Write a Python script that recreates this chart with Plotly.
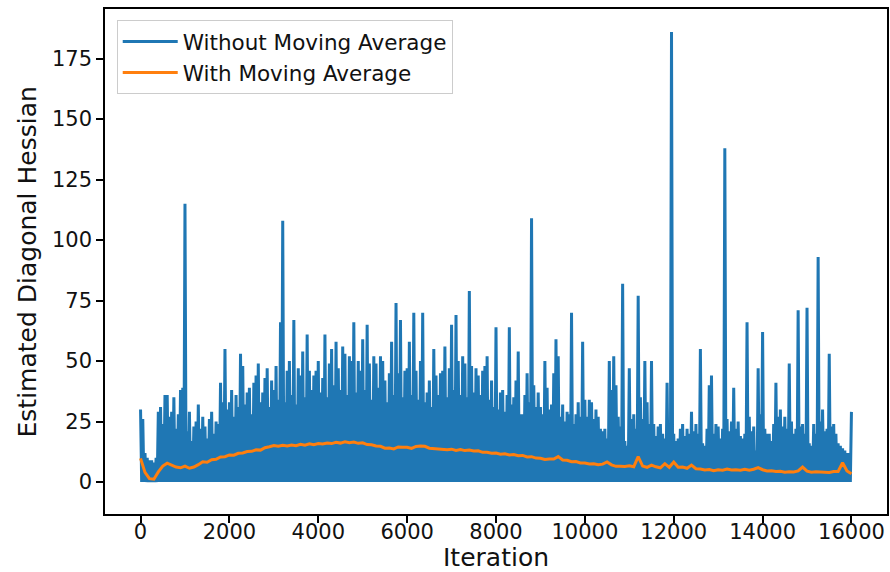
import plotly.graph_objects as go

# ---- data -------------------------------------------------------------
# Raw diagonal-Hessian estimate: local maxima sampled every 50 iterations
# (0, 50, ..., 16000); between two maxima the estimate drops back to the floor.
peak_step = 50
raw_peaks = [
    30, 26, 12, 10, 9, 9, 8, 10, 29, 31, 24, 36, 36, 27, 29, 35, 22, 28, 38, 39,
    115, 21, 29, 17, 23, 25, 32, 22, 27, 23, 18, 26, 29, 20, 25, 24, 41, 33, 55, 30,
    33, 38, 27, 36, 31, 53, 48, 32, 37, 39, 28, 41, 44, 49, 33, 37, 43, 47, 31, 42,
    38, 48, 34, 66, 108, 33, 46, 50, 36, 67, 32, 47, 44, 54, 35, 61, 46, 38, 44, 46,
    50, 37, 43, 61, 35, 49, 55, 40, 58, 47, 38, 56, 53, 36, 52, 50, 66, 37, 50, 46,
    59, 38, 65, 49, 34, 52, 49, 39, 52, 50, 42, 33, 45, 58, 36, 74, 45, 67, 35, 46,
    47, 58, 36, 70, 46, 34, 50, 70, 33, 37, 42, 31, 55, 44, 36, 45, 46, 56, 35, 47,
    65, 38, 69, 50, 36, 52, 49, 35, 79, 48, 37, 47, 44, 36, 46, 48, 52, 34, 42, 31,
    64, 30, 37, 38, 29, 36, 64, 32, 35, 42, 54, 28, 28, 36, 45, 33, 109, 40, 31, 37,
    31, 28, 50, 39, 30, 32, 45, 59, 52, 27, 32, 25, 29, 28, 70, 24, 28, 33, 27, 58,
    34, 27, 34, 33, 26, 30, 27, 22, 21, 22, 18, 50, 38, 52, 40, 27, 23, 82, 17, 15,
    47, 26, 28, 22, 77, 35, 26, 50, 33, 24, 50, 24, 19, 23, 24, 20, 18, 41, 19, 186,
    20, 17, 18, 22, 24, 19, 22, 20, 29, 21, 24, 20, 55, 16, 15, 22, 40, 44, 20, 24,
    23, 18, 22, 138, 26, 21, 25, 39, 22, 25, 19, 18, 20, 66, 27, 21, 23, 13, 47, 28,
    62, 22, 20, 20, 17, 24, 41, 27, 30, 23, 27, 22, 49, 25, 20, 22, 71, 23, 24, 20,
    72, 16, 15, 24, 20, 93, 25, 30, 21, 22, 53, 23, 24, 20, 16, 15, 14, 13, 12, 12,
    29,
]
raw_floor = 0.0

# Moving-average estimate, every 100 iterations (0, 100, ..., 16000)
avg_step = 100
avg_vals = [
    9.8, 4.0, 1.4, 1.2, 4.2, 6.6, 7.8, 7.1, 6.2, 5.9,
    6.6, 5.7, 6.2, 7.2, 8.4, 8.2, 9.2, 9.4, 10.4, 10.5,
    11.2, 11.1, 11.9, 12.0, 12.6, 12.7, 13.3, 13.2, 14.2, 14.6,
    15.1, 14.8, 15.2, 14.9, 15.3, 15.0, 15.6, 15.2, 15.8, 15.4,
    15.9, 15.7, 16.1, 15.9, 16.4, 16.1, 16.6, 16.3, 16.5, 16.0,
    16.2, 15.5, 15.4, 14.9, 14.8, 14.0, 14.1, 13.7, 14.5, 14.4,
    14.4, 13.9, 14.7, 14.9, 14.8, 14.0, 13.9, 13.5, 13.7, 13.4,
    13.6, 13.1, 13.4, 13.0, 13.2, 12.8, 12.9, 12.3, 12.3, 11.9,
    12.0, 11.5, 11.7, 11.2, 11.4, 10.9, 11.0, 10.4, 10.5, 9.9,
    9.8, 9.3, 9.5, 9.5, 10.5, 9.1, 9.0, 8.4, 8.5, 7.9,
    7.9, 7.5, 7.6, 7.2, 7.4, 8.3, 7.1, 6.5, 6.5, 6.4,
    6.7, 6.3, 10.5, 6.6, 6.1, 7.0, 6.3, 5.9, 7.6, 6.1,
    8.3, 6.1, 6.2, 5.7, 7.0, 5.5, 5.4, 5.0, 5.2, 4.7,
    5.1, 4.9, 5.4, 5.0, 5.1, 4.9, 5.3, 4.9, 5.3, 6.0,
    5.1, 4.6, 4.7, 4.4, 4.5, 4.1, 4.3, 4.2, 4.6, 6.2,
    4.5, 4.1, 4.3, 4.2, 4.3, 4.0, 4.4, 4.4, 8.0, 4.6,
    3.4,
]

x_ticks = [0, 2000, 4000, 6000, 8000, 10000, 12000, 14000, 16000]
x_tick_text = ["0", "2000", "4000", "6000", "8000", "10000", "12000", "14000", "16000"]
y_ticks = [0, 25, 50, 75, 100, 125, 150, 175]

# ---- series construction -------------------------------------------------
raw_x, raw_y = [], []
for i, v in enumerate(raw_peaks):
    it = i * peak_step
    raw_x.append(it)
    raw_y.append(v)
    if i < len(raw_peaks) - 1:
        raw_x.append(it + peak_step // 2)
        raw_y.append(raw_floor)

avg_x = [i * avg_step for i in range(len(avg_vals))]

BLUE = "#1f77b4"
ORANGE = "#ff7f0e"
FONT = "DejaVu Sans"
TEXT = "#111111"

fig = go.Figure()
fig.add_trace(go.Scatter(
    x=raw_x, y=raw_y, mode="lines", name="Without Moving Average",
    line=dict(color=BLUE, width=3),
))
fig.add_trace(go.Scatter(
    x=avg_x, y=avg_vals, mode="lines", name="With Moving Average",
    line=dict(color=ORANGE, width=3),
))

axis_common = dict(
    showgrid=False, zeroline=False, automargin=False,
    showline=True, linecolor="black", linewidth=1.6, mirror=True,
    ticks="outside", ticklen=7, tickwidth=1.6, tickcolor="black",
    tickfont=dict(family=FONT, size=21, color=TEXT),
)

fig.update_layout(
    width=890, height=572,
    margin=dict(l=105, r=3, t=9, b=58),
    paper_bgcolor="white", plot_bgcolor="white",
    font=dict(family=FONT, color=TEXT),
    xaxis=dict(
        range=[-800, 16800], tickvals=x_ticks, ticktext=x_tick_text,
        ticklabelstandoff=-9,
        **axis_common,
    ),
    yaxis=dict(
        range=[-13.2, 195.5], tickvals=y_ticks,
        **axis_common,
    ),
    legend=dict(
        x=0.015, y=0.978, xanchor="left", yanchor="top",
        bgcolor="rgba(255,255,255,0.85)", bordercolor="#cccccc", borderwidth=1,
        itemwidth=55,
        font=dict(family=FONT, size=21.5, color=TEXT),
    ),
    showlegend=True,
    annotations=[
        dict(text="Iteration", xref="paper", yref="paper", x=0.5, y=-0.087,
             xanchor="center", yanchor="middle", showarrow=False,
             font=dict(family=FONT, size=25, color=TEXT)),
        dict(text="Estimated Diagonal Hessian", xref="paper", yref="paper",
             x=-0.0985, y=0.5, xanchor="center", yanchor="middle",
             textangle=-90, showarrow=False,
             font=dict(family=FONT, size=25, color=TEXT)),
    ],
)

fig.write_html("out.html")
